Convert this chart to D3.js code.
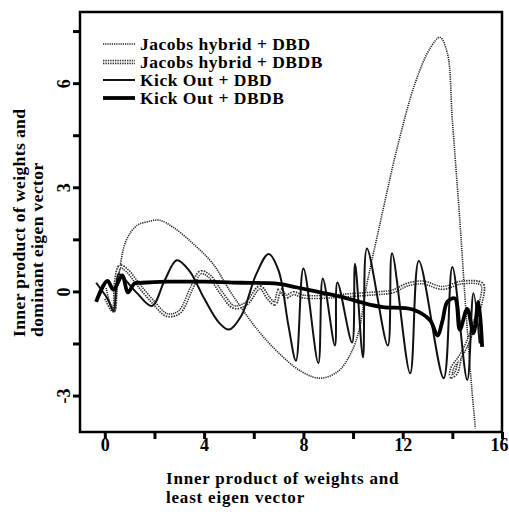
<!DOCTYPE html>
<html>
<head>
<meta charset="utf-8">
<script src="https://cdn.jsdelivr.net/npm/d3@7"></script>
<style>
  body { margin: 0; background: #fff; }
  text { font-family: "Liberation Serif", "Times New Roman", serif; font-weight: bold; }
</style>
</head>
<body>
<svg></svg>
<script>
// trajectories (x = least eigen vector product, y = dominant eigen vector product)
const jacobsDbdX = [0.05, 0.35, 0.55, 0.85, 1.3, 1.8, 2.2, 2.75, 3.55, 4.35, 5.16, 6.5, 7.9, 8.7, 9.4, 9.9, 10.25, 10.5, 11.1, 11.8, 12.5, 13.1, 13.5, 13.8, 14.0, 14.3, 14.55, 14.78, 14.93];
const jacobsDbdY = [0.1, -0.6, 0.4, 1.45, 1.9, 2.02, 2.05, 1.85, 1.38, 0.8, -0.12, -1.4, -2.3, -2.5, -2.3, -1.8, -1.1, 0.0, 2.0, 4.2, 6.0, 7.0, 7.32, 6.86, 4.93, 2.05, -0.6, -2.77, -3.95];

const jacobsDbdbX = [0.05, 0.35, 0.45, 0.62, 0.9, 1.4, 2.0, 2.5, 3.0, 3.5, 3.85, 4.2, 4.7, 5.2, 5.7, 6.25, 6.6, 6.85, 7.05, 7.3, 7.6, 8.0, 9.0, 10.0, 11.0, 11.6, 12.2, 12.8, 13.6, 14.4, 15.2, 15.15, 14.9, 14.6, 14.3, 14.0, 13.95, 14.15, 14.3];
const jacobsDbdbY = [-0.2, -0.55, 0.3, 0.72, 0.6, 0.15, -0.35, -0.68, -0.6, 0.1, 0.55, 0.45, -0.05, -0.45, -0.35, 0.12, -0.2, -0.35, 0.05, -0.15, -0.05, -0.15, -0.15, -0.1, -0.05, 0.0, 0.2, 0.26, 0.1, 0.26, 0.2, -0.3, -0.9, -1.5, -1.9, -2.2, -2.45, -2.35, -1.9];

const kickDbdX = [-0.35, 0.1, 0.35, 0.55, 0.8, 1.3, 1.9, 2.4, 2.9, 3.4, 4.0, 4.6, 5.0, 5.5, 6.1, 6.6, 7.0, 7.4, 7.7, 8.0, 8.6, 8.78, 9.27, 9.37, 9.96, 10.08, 10.4, 10.56, 11.4, 11.57, 12.3, 12.65, 13.65, 14.0, 14.6, 14.85, 15.1];
const kickDbdY = [0.25, -0.2, -0.55, 0.5, 0.35, -0.05, -0.42, 0.3, 0.9, 0.6, -0.2, -0.9, -1.1, -0.7, 0.5, 1.08, 0.6, -1.0, -2.0, 0.66, -2.07, 0.37, -1.56, 0.26, -1.47, 0.8, -1.9, 1.24, -1.56, 1.1, -2.36, 0.88, -2.5, 0.7, -2.55, -0.05, -1.5];

const kickDbdbX = [-0.35, 0.1, 0.35, 0.7, 0.93, 1.2, 1.5, 2.5, 4.0, 5.5, 7.0, 7.7, 8.5, 9.5, 10.5, 11.2, 12.4, 13.1, 13.4, 13.6, 13.8, 14.1, 14.3, 14.6, 14.85, 15.05, 15.2];
const kickDbdbY = [-0.3, 0.3, 0.05, 0.46, -0.03, 0.23, 0.25, 0.28, 0.28, 0.25, 0.22, 0.12, 0.0, -0.15, -0.35, -0.45, -0.52, -0.83, -1.27, -0.85, -0.3, -0.2, -1.1, -0.5, -1.2, -0.3, -1.6];

const seriesNames = ["Jacobs hybrid + DBD", "Jacobs hybrid + DBDB", "Kick Out + DBD", "Kick Out + DBDB"];
const xTicks = [0, 2, 4, 6, 8, 10, 12, 14, 16];
const xLabels = [0, 4, 8, 12, 16];
const yTicks = [-3, -1.5, 0, 1.5, 3, 4.5, 6, 7.5];
const yLabels = [-3, 0, 3, 6];

const svg = d3.select('svg')
    .attr('width', 509)
    .attr('height', 512);

const mLeft = 80, mRight = 502, mTop = 12, mBottom = 432;
const fontSize = 17.5;

const x = d3.scaleLinear().domain([-1, 16]).range([mLeft, mRight]);
const y = d3.scaleLinear().domain([-4.05, 8.05]).range([mBottom, mTop]);

const zip = (xs, ys) => xs.map((v, i) => [v, ys[i]]);
const line = d3.line()
    .x(d => x(d[0]))
    .y(d => y(d[1]))
    .curve(d3.curveCatmullRom.alpha(0.5));

const plot = svg.append('g');
plot.append('clipPath').attr('id', 'clip')
    .append('rect')
    .attr('x', mLeft).attr('y', mTop)
    .attr('width', mRight - mLeft).attr('height', mBottom - mTop);

const lines = plot.append('g').attr('clip-path', 'url(#clip)');

// styles for each series
function drawJacobsDbd(sel) {
    sel.attr('fill', 'none').attr('stroke', '#222')
        .attr('stroke-width', 1.6).attr('stroke-dasharray', '1.2,1');
}
function drawJacobsDbdbOuter(sel) {
    sel.attr('fill', 'none').attr('stroke', '#333')
        .attr('stroke-width', 4.4).attr('stroke-dasharray', '1.4,1');
}
function drawJacobsDbdbInner(sel) {
    sel.attr('fill', 'none').attr('stroke', '#fff').attr('stroke-width', 1.2);
}
function drawKickDbd(sel) {
    sel.attr('fill', 'none').attr('stroke', '#111').attr('stroke-width', 2);
}
function drawKickDbdb(sel) {
    sel.attr('fill', 'none').attr('stroke', '#000').attr('stroke-width', 3.8)
        .attr('stroke-linejoin', 'round');
}

lines.append('path').attr('d', line(zip(jacobsDbdX, jacobsDbdY))).call(drawJacobsDbd);
lines.append('path').attr('d', line(zip(jacobsDbdbX, jacobsDbdbY))).call(drawJacobsDbdbOuter);
lines.append('path').attr('d', line(zip(jacobsDbdbX, jacobsDbdbY))).call(drawJacobsDbdbInner);
lines.append('path').attr('d', line(zip(kickDbdX, kickDbdY))).call(drawKickDbd);
lines.append('path').attr('d', line(zip(kickDbdbX, kickDbdbY))).call(drawKickDbdb);

// frame
svg.append('rect')
    .attr('x', mLeft).attr('y', mTop)
    .attr('width', mRight - mLeft).attr('height', mBottom - mTop)
    .attr('fill', 'none').attr('stroke', '#000').attr('stroke-width', 2.5);

// x axis
const xAxis = svg.append('g').attr('transform', `translate(0,${mBottom})`)
    .call(d3.axisBottom(x).tickValues(xTicks).tickSize(7)
        .tickFormat(d => xLabels.includes(d) ? d : ''));
xAxis.select('.domain').remove();
xAxis.selectAll('line').attr('stroke', '#000').attr('stroke-width', 3);
xAxis.selectAll('text').attr('font-size', 18).attr('fill', '#000')
    .attr('font-family', '"Liberation Serif", serif').attr('font-weight', 'bold')
    .attr('y', 19).attr('dy', 0)
    .attr('x', d => d === 16 ? -3 : 0);

// y axis
const yAxis = svg.append('g').attr('transform', `translate(${mLeft},0)`)
    .call(d3.axisLeft(y).tickValues(yTicks).tickSize(7)
        .tickFormat(d => yLabels.includes(d) ? d : ''));
yAxis.select('.domain').remove();
yAxis.selectAll('line').attr('stroke', '#000').attr('stroke-width', 3);
yAxis.selectAll('text')
    .attr('font-size', 18).attr('fill', '#000')
    .attr('font-family', '"Liberation Serif", serif').attr('font-weight', 'bold')
    .attr('x', 0).attr('dy', 0)
    .attr('text-anchor', 'middle')
    .attr('transform', 'translate(-10,0) rotate(-90)');

// axis titles
const xTitle = svg.append('text').attr('font-size', 17).attr('letter-spacing', 0.8);
xTitle.append('tspan').attr('x', 166).attr('y', 484).text('Inner product of weights and');
xTitle.append('tspan').attr('x', 166).attr('y', 503).text('least eigen vector');

const yTitle = svg.append('text').attr('font-size', fontSize).attr('letter-spacing', 0.4)
    .attr('transform', 'translate(0,337) rotate(-90)');
yTitle.append('tspan').attr('x', 0).attr('y', 25).text('Inner product of weights and');
yTitle.append('tspan').attr('x', 0).attr('y', 43).text('dominant eigen vector');

// legend
const legendY = [44, 62, 80, 98];
const legend = svg.append('g');
const legendStyles = [[drawJacobsDbd], [drawJacobsDbdbOuter, drawJacobsDbdbInner], [drawKickDbd], [drawKickDbdb]];
seriesNames.forEach((name, i) => {
    legendStyles[i].forEach(st => {
        legend.append('path')
            .attr('d', `M103,${legendY[i]}H135`)
            .call(st);
    });
    legend.append('text')
        .attr('x', 140).attr('y', legendY[i] + 5.5)
        .attr('font-size', fontSize)
        .attr('letter-spacing', 0.5)
        .text(name);
});
</script>
</body>
</html>
